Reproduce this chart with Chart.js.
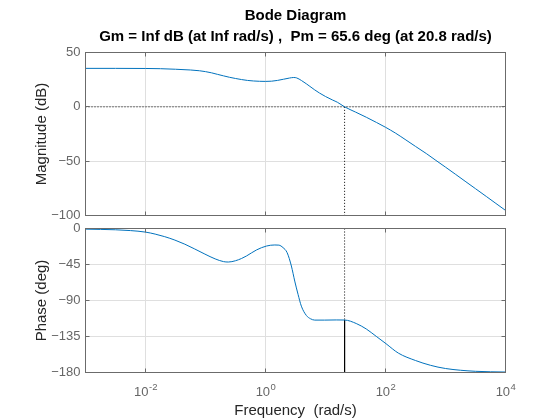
<!DOCTYPE html>
<html>
<head>
<meta charset="utf-8">
<script src="https://cdn.jsdelivr.net/npm/chart.js@4.4.1/dist/chart.umd.min.js"></script>
<style>
html,body{margin:0;padding:0;background:#fff;}
#wrap{position:relative;width:560px;height:420px;background:#fff;}
canvas{position:absolute;left:0;top:0;}
</style>
</head>
<body>
<div id="wrap">
<canvas id="mag" width="560" height="420"></canvas>
<canvas id="phase" width="560" height="420"></canvas>
</div>
<script>
// ---- data ----
const magFreq = [0.001, 0.00316, 0.01, 0.0178, 0.0316, 0.0562, 0.0794, 0.1, 0.126, 0.158, 0.2, 0.251, 0.316, 0.398, 0.501, 0.631, 0.794, 1, 1.26, 1.58, 2.0, 2.51, 2.95, 3.31, 3.98, 4.79, 5.5, 6.61, 7.94, 10, 13.2, 15.8, 20.8, 31.6, 47.9, 70.8, 100, 148, 219, 316, 479, 692, 1000, 1480, 2190, 3160, 4790, 6920, 10000];
const magDb = [35.4, 35.4, 35.3, 35.1, 34.6, 33.9, 33.2, 32.4, 31.3, 29.9, 28.5, 27.2, 26.1, 25.1, 24.3, 23.8, 23.5, 23.4, 23.6, 24.3, 25.4, 26.5, 27.0, 26.6, 24.2, 21.2, 18.8, 15.6, 12.7, 9.5, 6.2, 4.2, 0, -4.8, -9.6, -14.4, -18.8, -24.3, -30.5, -36.4, -43.0, -49.3, -55.5, -62.2, -69.0, -75.3, -82.5, -88.9, -95.3];
const phaseFreq = [0.001, 0.00316, 0.00562, 0.01, 0.0145, 0.0209, 0.0309, 0.0452, 0.0661, 0.0977, 0.145, 0.2, 0.24, 0.316, 0.398, 0.483, 0.708, 1.04, 1.43, 1.67, 1.96, 2.29, 2.7, 3.07, 3.49, 3.96, 4.81, 5.62, 6.61, 9.68, 15.1, 20.8, 32.6, 47.8, 70.0, 102, 164, 316, 562, 1000, 3160, 10000];
const phaseDeg = [-0.8, -1.6, -2.6, -4.5, -7, -10.2, -14.5, -19.6, -25.6, -32, -38, -41.4, -41.9, -40.3, -37.5, -34.3, -26.8, -21.9, -20.6, -20.8, -23.9, -30.1, -46.9, -65.7, -82.4, -97.1, -108.8, -112.8, -114.5, -114.5, -114.3, -114.4, -118.8, -125.6, -134.8, -144, -155.8, -165, -171, -175, -178.5, -179.4];
const xTickValues = [0.01, 1, 100, 10000];
const magTicks = [-100, -50, 0, 50];
const phaseTicks = [-180, -135, -90, -45, 0];
const crossoverFreq = [20.8];
const crossoverPhase = [-114.4];
const titleText = 'Bode Diagram';
const subtitleText = 'Gm = Inf dB (at Inf rad/s) ,  Pm = 65.6 deg (at 20.8 rad/s)';

// ---- styling ----
const FONT = "'Liberation Sans', Arial, Helvetica, sans-serif";
const BLUE = '#0072BD';
const GRID = '#dfdfdf';
const BOX = '#6b6b6b';
const TICK = '#666666';
const LABEL = '#262626';
Chart.defaults.font.family = FONT;

const framePlugin = {
  id: 'frame',
  afterDraw(chart, args, opts) {
    const {ctx, chartArea: a} = chart;
    const xs = chart.scales.x, ys = chart.scales.y;
    ctx.save();
    ctx.strokeStyle = BOX;
    ctx.lineWidth = 1;
    ctx.beginPath();
    const len = 4;
    xs.ticks.forEach(t => {
      const px = Math.floor(xs.getPixelForValue(t.value)) + 0.5;
      ctx.moveTo(px, a.bottom); ctx.lineTo(px, a.bottom - len);
      ctx.moveTo(px, a.top); ctx.lineTo(px, a.top + len);
    });
    ys.ticks.forEach(t => {
      const py = Math.floor(ys.getPixelForValue(t.value)) + 0.5;
      ctx.moveTo(a.left, py); ctx.lineTo(a.left + len, py);
      ctx.moveTo(a.right, py); ctx.lineTo(a.right - len, py);
    });
    ctx.stroke();
    ctx.strokeRect(a.left, a.top, a.right - a.left, a.bottom - a.top);
    if (opts.powerLabels) {
      ctx.fillStyle = TICK;
      ctx.textBaseline = 'middle';
      ctx.textAlign = 'left';
      const baseFont = '13px ' + FONT, supFont = '9.5px ' + FONT;
      xs.ticks.forEach(t => {
        const e = Math.round(Math.log10(t.value));
        const base = '10', sup = String(e);
        ctx.font = baseFont; const wb = ctx.measureText(base).width;
        ctx.font = supFont; const ws = ctx.measureText(sup).width;
        const x0 = xs.getPixelForValue(t.value) - (wb + ws) / 2;
        ctx.font = baseFont; ctx.fillText(base, x0, 392.5);
        ctx.font = supFont; ctx.fillText(sup, x0 + wb + 0.5, 387);
      });
    }
    ctx.restore();
  }
};

function xScale(extra) {
  return Object.assign({
    type: 'logarithmic', min: 0.001, max: 10000,
    afterBuildTicks: s => { s.ticks = xTickValues.map(v => ({value: v})); },
    ticks: {display: false},
    grid: {color: GRID, drawTicks: false},
    border: {display: false}
  }, extra);
}
function yScale(min, max, ticks, label) {
  return {
    type: 'linear', min: min, max: max,
    afterBuildTicks: s => { s.ticks = ticks.map(v => ({value: v})); },
    ticks: {color: TICK, font: {size: 13}, padding: 5,
      callback: v => String(v).replace('-', '\u2212')},
    grid: {color: GRID, drawTicks: false},
    border: {display: false},
    title: {display: true, text: label, color: LABEL, font: {size: 15}, padding: {top: 33, bottom: 0}},
    afterFit: s => { s.width = 85.5; }
  };
}
function line(points, color, dash) {
  return {data: points, borderColor: color, borderWidth: 1, borderDash: dash || [], pointRadius: 0, tension: 0, clip: 2};
}

new Chart(document.getElementById('mag'), {
  type: 'line',
  data: {datasets: [
    Object.assign(line(magFreq.map((f, i) => ({x: f, y: magDb[i]})), BLUE), {cubicInterpolationMode: 'monotone'}),
    line([{x: 0.001, y: 0}, {x: 10000, y: 0}], '#000', [1, 2]),
    line([{x: crossoverFreq[0], y: 0}, {x: crossoverFreq[0], y: -100}], '#000', [1, 2])
  ]},
  options: {
    responsive: false, animation: false, events: [],
    layout: {padding: {left: 0, right: 54.5, top: 0, bottom: 204.5}},
    plugins: {
      legend: {display: false}, tooltip: {enabled: false},
      title: {display: true, fullSize: false, text: titleText, color: '#000', font: {size: 15, weight: 'bold'}, padding: {top: 7, bottom: 3}},
      subtitle: {display: true, fullSize: false, text: subtitleText, color: '#000', font: {size: 15, weight: 'bold'}, padding: {top: 0, bottom: 6.5}},
      frame: {powerLabels: false}
    },
    scales: {
      x: xScale({afterFit: s => { s.height = 0; }}),
      y: yScale(-100, 50, magTicks, 'Magnitude (dB)')
    }
  },
  plugins: [framePlugin]
});

new Chart(document.getElementById('phase'), {
  type: 'line',
  data: {datasets: [
    Object.assign(line(phaseFreq.map((f, i) => ({x: f, y: phaseDeg[i]})), BLUE), {cubicInterpolationMode: 'monotone'}),
    line([{x: 0.001, y: -180}, {x: 10000, y: -180}], '#000', [1, 2]),
    line([{x: crossoverFreq[0], y: 0}, {x: crossoverFreq[0], y: crossoverPhase[0]}], '#000', [1, 2]),
    line([{x: crossoverFreq[0], y: crossoverPhase[0]}, {x: crossoverFreq[0], y: -180}], '#000')
  ]},
  options: {
    responsive: false, animation: false, events: [],
    layout: {padding: {left: 0, right: 54.5, top: 228.5, bottom: 0}},
    plugins: {
      legend: {display: false}, tooltip: {enabled: false},
      frame: {powerLabels: true}
    },
    scales: {
      x: xScale({
        title: {display: true, text: 'Frequency  (rad/s)', color: LABEL, font: {size: 15}, padding: {top: 0, bottom: 0}},
        afterFit: s => { s.height = 47.5; }
      }),
      y: yScale(-180, 0, phaseTicks, 'Phase (deg)')
    }
  },
  plugins: [framePlugin]
});
</script>
</body>
</html>
